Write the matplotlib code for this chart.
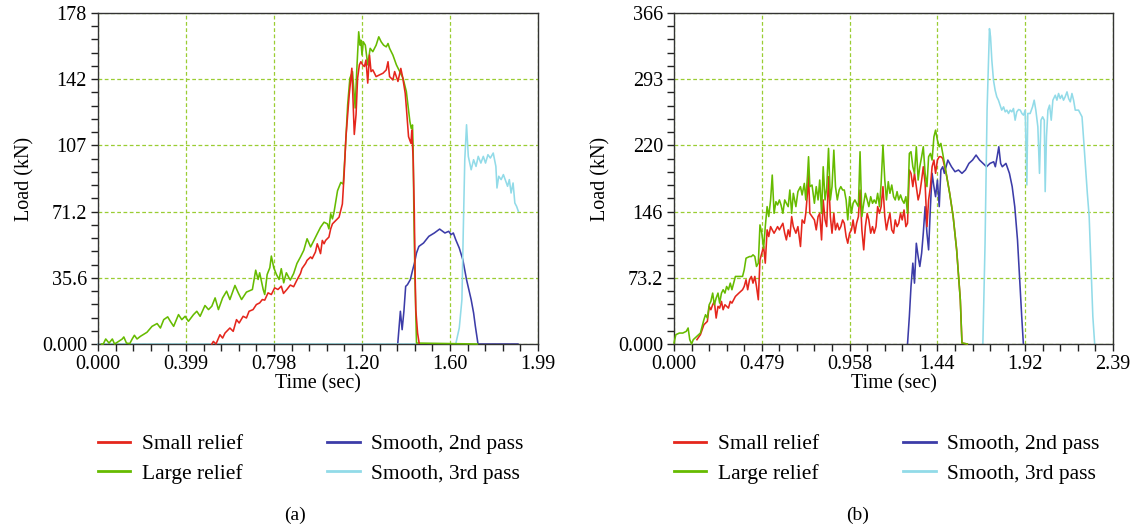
import numpy as np
import matplotlib
matplotlib.use("Agg")
import matplotlib.pyplot as plt
from matplotlib.ticker import FixedLocator, AutoMinorLocator

plt.rcParams['font.family'] = ['Liberation Serif', 'DejaVu Serif']

# ---- panel (a) data: time (sec), load (kN) ----
a_small_t = [0.516, 0.523, 0.535, 0.553, 0.565, 0.576, 0.598, 0.613, 0.628, 0.640, 0.658, 0.673,
             0.685, 0.703, 0.718, 0.733, 0.745, 0.756, 0.771, 0.786, 0.801, 0.816, 0.831, 0.841,
             0.857, 0.872, 0.887, 0.902, 0.918, 0.925, 0.941, 0.948, 0.964, 0.971, 0.986, 0.994,
             1.002, 1.009, 1.017, 1.025, 1.032, 1.047, 1.055, 1.063, 1.078, 1.093, 1.108, 1.116,
             1.124, 1.139, 1.151, 1.162, 1.170, 1.177, 1.185, 1.192, 1.200, 1.208, 1.215, 1.223,
             1.231, 1.238, 1.246, 1.261, 1.276, 1.292, 1.307, 1.315, 1.322, 1.337, 1.345, 1.360,
             1.373, 1.381, 1.393, 1.399, 1.408, 1.419, 1.423, 1.429, 1.434, 1.438, 1.441, 1.449, 1.456]
a_small_v = [0, 1.4, 0, 5.0, 3.2, 5.9, 8.6, 6.8, 13.1, 11.3, 14.9, 14.0,
             17.6, 18.5, 21.2, 22.1, 23.9, 23.6, 27.5, 26.6, 30.2, 29.3, 31.1, 27.2,
             29.4, 31.7, 30.8, 34.4, 37.9, 40.6, 43.3, 45.0, 46.8, 45.9, 49.5, 53.9,
             51.3, 48.6, 55.7, 53.9, 55.7, 57.5, 61.9, 64.6, 66.4, 68.2, 75.3, 91.3,
             110.9, 134.0, 148.3, 112.7, 123.4, 142.9, 150.1, 151.8, 150.1, 149.2, 152.7, 140.3,
             155.4, 146.5, 147.4, 143.8, 144.7, 145.6, 147.4, 151.8, 143.8, 142.0, 146.5, 141.2,
             148.2, 143.7, 134.8, 125.8, 111.5, 107.9, 115.1, 99.0, 72.1, 36.3, 18.4, 5.9, 0.5]

a_large_t = [0.016, 0.024, 0.035, 0.050, 0.065, 0.075, 0.087, 0.110, 0.117, 0.129, 0.144, 0.155,
             0.165, 0.177, 0.192, 0.222, 0.245, 0.268, 0.283, 0.298, 0.316, 0.328, 0.343, 0.365,
             0.380, 0.395, 0.410, 0.433, 0.448, 0.463, 0.485, 0.501, 0.516, 0.531, 0.546, 0.565,
             0.583, 0.598, 0.621, 0.636, 0.651, 0.673, 0.700, 0.715, 0.726, 0.733, 0.749, 0.756,
             0.767, 0.779, 0.786, 0.797, 0.809, 0.821, 0.831, 0.842, 0.854, 0.866, 0.872, 0.887,
             0.902, 0.918, 0.933, 0.948, 0.964, 0.979, 0.994, 1.009, 1.025, 1.040, 1.047, 1.055,
             1.063, 1.070, 1.086, 1.101, 1.112, 1.121, 1.132, 1.142, 1.154, 1.166, 1.173, 1.182,
             1.188, 1.192, 1.197, 1.203, 1.212, 1.223, 1.234, 1.246, 1.261, 1.273, 1.284, 1.295,
             1.307, 1.315, 1.322, 1.337, 1.353, 1.368, 1.383, 1.398, 1.414, 1.420, 1.426, 1.429,
             1.432, 1.437, 1.444, 1.720]
a_large_v = [0, 0, 2.7, 0.5, 2.7, 0, 0.9, 2.7, 3.8, 0.5, 0.2, 2.7,
             4.7, 2.7, 4.1, 6.3, 9.5, 11.0, 8.6, 13.1, 14.6, 12.2, 9.5, 15.8,
             13.1, 14.9, 12.2, 15.8, 17.6, 14.9, 20.7, 18.5, 20.3, 24.8, 18.5, 24.8,
             28.4, 23.9, 31.5, 27.5, 23.9, 27.9, 29.3, 39.7, 34.7, 38.3, 29.3, 26.6,
             37.4, 41.0, 47.3, 41.0, 37.4, 34.7, 40.5, 32.9, 38.3, 35.6, 34.4, 37.9,
             43.3, 46.8, 50.4, 56.6, 52.2, 55.7, 59.3, 62.8, 65.5, 64.6, 61.9, 70.0,
             67.3, 70.8, 82.4, 86.9, 86.0, 103.8, 128.7, 142.9, 146.5, 126.9, 146.5, 167.9,
             160.7, 163.4, 155.4, 162.5, 160.7, 150.1, 159.0, 157.2, 160.7, 165.2, 162.5, 160.7,
             159.8, 161.6, 159.0, 155.4, 150.1, 146.5, 142.9, 135.8, 119.8, 116.0, 117.8, 104.4,
             72.1, 36.3, 0.5, 0]

a_pass2_t = [1.359, 1.371, 1.379, 1.387, 1.395, 1.403, 1.416, 1.427, 1.435, 1.444, 1.455, 1.476,
             1.500, 1.525, 1.549, 1.573, 1.590, 1.601, 1.611, 1.622, 1.638, 1.654, 1.671, 1.692,
             1.703, 1.711, 1.723, 1.904]
a_pass2_v = [0, 17.6, 7.7, 17.6, 31.0, 31.9, 34.6, 40.0, 43.6, 48.9, 52.5, 54.3,
             57.9, 59.7, 61.8, 59.7, 60.6, 58.8, 59.7, 56.1, 51.6, 45.4, 34.6, 23.8,
             16.7, 9.5, 0, 0]

a_pass3_t = [0.0, 1.622, 1.638, 1.650, 1.656, 1.663, 1.671, 1.679, 1.692, 1.703, 1.714, 1.724,
             1.736, 1.747, 1.757, 1.768, 1.779, 1.792, 1.804, 1.809, 1.817, 1.828, 1.838, 1.849,
             1.857, 1.865, 1.873, 1.882, 1.890, 1.898, 1.906]
a_pass3_v = [0, 0, 8.6, 23.8, 59.7, 99.1, 117.9, 100.9, 93.7, 99.1, 95.5, 100.9,
             97.3, 100.9, 97.3, 101.8, 100.0, 102.7, 95.5, 83.9, 90.2, 88.4, 91.1, 87.5,
             84.8, 88.4, 81.2, 86.6, 75.8, 74.0, 71.3]

# ---- panel (b) data ----
b_small_t = [0.125, 0.144, 0.163, 0.182, 0.192, 0.201, 0.211, 0.220, 0.230, 0.240, 0.249, 0.259,
             0.268, 0.278, 0.287, 0.297, 0.307, 0.316, 0.335, 0.354, 0.374, 0.383, 0.393, 0.402,
             0.412, 0.422, 0.431, 0.441, 0.450, 0.460, 0.469, 0.479, 0.489, 0.498, 0.508, 0.517,
             0.527, 0.536, 0.546, 0.556, 0.565, 0.575, 0.584, 0.594, 0.604, 0.613, 0.623, 0.632,
             0.642, 0.651, 0.665, 0.676, 0.690, 0.699, 0.711, 0.719, 0.728, 0.734, 0.741, 0.753,
             0.766, 0.776, 0.786, 0.795, 0.805, 0.814, 0.824, 0.833, 0.843, 0.853, 0.862, 0.872,
             0.881, 0.891, 0.901, 0.910, 0.920, 0.929, 0.939, 0.948, 0.958, 0.968, 0.977, 0.987,
             0.996, 1.006, 1.015, 1.025, 1.035, 1.044, 1.054, 1.063, 1.073, 1.083, 1.092, 1.102,
             1.111, 1.121, 1.130, 1.140, 1.150, 1.159, 1.169, 1.178, 1.188, 1.198, 1.207, 1.217,
             1.226, 1.236, 1.245, 1.255, 1.265, 1.274, 1.284, 1.293, 1.303, 1.312, 1.322, 1.332,
             1.341, 1.351, 1.360, 1.370, 1.380, 1.389, 1.399, 1.408, 1.418, 1.427, 1.437, 1.447,
             1.456, 1.466, 1.485, 1.504, 1.523, 1.542, 1.562, 1.571, 1.600]
b_small_v = [4.8, 10.3, 21.3, 25.0, 41.6, 37.9, 43.4, 47.1, 28.7, 41.6, 39.7, 47.1,
             37.9, 43.4, 41.6, 39.7, 47.1, 45.2, 52.6, 56.3, 60.0, 63.6, 71.0, 60.0,
             71.0, 74.7, 67.3, 74.7, 63.6, 48.9, 93.1, 100.4, 107.8, 89.4, 126.2, 118.8,
             129.8, 126.2, 122.5, 126.2, 129.8, 126.2, 129.8, 133.5, 122.5, 115.1, 126.2, 118.8,
             140.9, 129.8, 122.5, 129.8, 107.8, 137.2, 133.5, 144.5, 166.6, 188.7, 144.5, 140.9,
             137.2, 126.2, 140.9, 144.5, 115.1, 159.3, 137.2, 129.8, 185.0, 140.9, 122.5, 144.5,
             126.2, 133.5, 126.2, 129.8, 137.2, 133.5, 118.8, 111.4, 122.5, 126.2, 137.2, 122.5,
             133.5, 140.9, 170.3, 126.2, 104.1, 129.8, 144.5, 137.2, 122.5, 129.8, 122.5, 129.8,
             151.9, 144.5, 151.9, 174.0, 140.9, 126.2, 137.2, 144.5, 126.2, 122.5, 137.2, 129.8,
             133.5, 144.5, 137.2, 148.2, 129.8, 133.5, 192.4, 188.7, 174.0, 188.7, 174.0, 159.3,
             166.6, 181.3, 196.0, 177.6, 129.8, 159.3, 174.0, 196.0, 203.4, 188.7, 203.4, 207.1,
             207.1, 205.2, 188.7, 166.6, 140.9, 104.1, 48.9, 1.1, 0]

b_large_t = [0.000, 0.010, 0.029, 0.048, 0.067, 0.077, 0.086, 0.096, 0.105, 0.125, 0.144, 0.163,
             0.172, 0.182, 0.192, 0.201, 0.211, 0.220, 0.230, 0.240, 0.249, 0.259, 0.268, 0.278,
             0.287, 0.297, 0.307, 0.316, 0.335, 0.354, 0.374, 0.383, 0.393, 0.412, 0.422, 0.431,
             0.441, 0.450, 0.460, 0.469, 0.479, 0.489, 0.498, 0.508, 0.517, 0.527, 0.536, 0.546,
             0.556, 0.565, 0.575, 0.584, 0.594, 0.604, 0.613, 0.623, 0.632, 0.642, 0.651, 0.665,
             0.676, 0.690, 0.699, 0.711, 0.719, 0.728, 0.734, 0.741, 0.753, 0.766, 0.776, 0.786,
             0.795, 0.805, 0.814, 0.824, 0.833, 0.843, 0.853, 0.862, 0.872, 0.881, 0.891, 0.901,
             0.910, 0.920, 0.929, 0.939, 0.948, 0.958, 0.968, 0.977, 0.987, 0.996, 1.006, 1.015,
             1.025, 1.035, 1.044, 1.054, 1.063, 1.073, 1.083, 1.092, 1.102, 1.111, 1.121, 1.130,
             1.140, 1.150, 1.159, 1.169, 1.178, 1.188, 1.198, 1.207, 1.217, 1.226, 1.236, 1.245,
             1.255, 1.265, 1.274, 1.284, 1.293, 1.303, 1.312, 1.322, 1.332, 1.341, 1.351, 1.360,
             1.370, 1.380, 1.389, 1.399, 1.408, 1.418, 1.427, 1.437, 1.447, 1.456, 1.466, 1.485,
             1.504, 1.523, 1.542, 1.562, 1.571, 1.600]
b_large_v = [1.1, 10.3, 12.1, 12.1, 14.0, 17.7, 4.8, 0, 4.8, 8.5, 12.1, 26.8,
             32.4, 28.7, 43.4, 47.1, 56.3, 43.4, 50.8, 56.3, 45.2, 56.3, 60.0, 56.3,
             63.6, 60.0, 67.3, 60.0, 74.7, 74.7, 74.7, 82.0, 94.9, 96.7, 96.7, 98.6,
             96.7, 85.7, 89.4, 131.7, 122.5, 105.9, 129.8, 151.9, 140.9, 159.3, 186.8, 144.5,
             157.4, 153.7, 159.3, 153.7, 144.5, 159.3, 155.6, 151.9, 170.3, 144.5, 166.6, 151.9,
             168.5, 174.0, 164.8, 177.6, 159.3, 185.0, 207.1, 174.0, 175.8, 155.6, 174.0, 159.3,
             181.3, 144.5, 196.0, 159.3, 172.1, 216.3, 159.3, 174.0, 214.4, 174.0, 159.3, 170.3,
             174.0, 170.3, 170.3, 159.3, 137.2, 162.9, 144.5, 155.6, 159.3, 155.6, 151.9, 212.6,
             140.9, 155.6, 166.6, 159.3, 151.9, 162.9, 155.6, 159.3, 155.6, 166.6, 151.9, 177.6,
             219.9, 181.3, 159.3, 179.5, 166.6, 175.8, 162.9, 159.3, 168.5, 159.3, 164.8, 159.3,
             155.6, 162.9, 144.5, 210.7, 212.6, 196.0, 188.7, 218.1, 181.3, 196.0, 207.1, 218.1,
             188.7, 174.0, 207.1, 210.7, 203.4, 229.1, 236.5, 225.5, 218.1, 221.8, 210.7, 188.7,
             166.6, 140.9, 104.1, 48.9, 1.1, 0]

b_pass2_t = [1.274, 1.284, 1.293, 1.303, 1.312, 1.322, 1.332, 1.341, 1.351, 1.360, 1.370, 1.380,
             1.389, 1.399, 1.408, 1.418, 1.427, 1.437, 1.447, 1.456, 1.466, 1.475, 1.494, 1.514,
             1.533, 1.552, 1.571, 1.590, 1.609, 1.629, 1.648, 1.667, 1.686, 1.705, 1.724, 1.744,
             1.753, 1.763, 1.772, 1.782, 1.791, 1.811, 1.830, 1.845, 1.859, 1.874, 1.887, 1.897,
             1.906]
b_pass2_v = [0, 30.5, 63.6, 89.4, 67.3, 111.4, 96.7, 85.7, 100.4, 122.5, 151.9, 122.5,
             104.1, 151.9, 188.7, 174.0, 162.9, 181.3, 151.9, 192.4, 196.0, 188.7, 203.4, 196.0,
             190.5, 192.4, 188.7, 192.4, 199.7, 203.4, 208.9, 203.4, 199.7, 196.0, 199.7, 201.5,
             196.0, 207.1, 218.1, 199.7, 196.0, 199.7, 188.7, 174.0, 151.9, 115.1, 67.3, 30.5,
             0]

b_pass3_t = [1.685, 1.697, 1.708, 1.721, 1.727, 1.734, 1.743, 1.752, 1.761, 1.770, 1.779, 1.788,
             1.798, 1.807, 1.816, 1.825, 1.834, 1.843, 1.852, 1.861, 1.870, 1.880, 1.889, 1.898,
             1.907, 1.916, 1.925, 1.930, 1.943, 1.956, 1.965, 1.974, 1.985, 1.994, 2.002, 2.011,
             2.020, 2.025, 2.032, 2.040, 2.049, 2.058, 2.067, 2.080, 2.089, 2.098, 2.107, 2.116,
             2.125, 2.134, 2.144, 2.153, 2.162, 2.171, 2.180, 2.189, 2.207, 2.226, 2.235, 2.245,
             2.255, 2.265, 2.275, 2.285, 2.295]
b_pass3_v = [0, 111.4, 258.6, 348.7, 339.5, 313.7, 291.7, 280.6, 273.3, 269.6, 264.1, 258.6,
             262.2, 256.7, 258.6, 254.9, 258.6, 256.7, 260.4, 247.5, 256.7, 259.3, 258.6, 254.9,
             253.0, 258.6, 175.8, 254.9, 254.9, 262.2, 269.6, 258.6, 240.2, 188.7, 247.5, 251.2,
             247.5, 168.5, 229.1, 258.6, 264.1, 247.5, 269.6, 275.1, 269.6, 277.0, 271.4, 275.1,
             269.6, 273.3, 278.8, 271.4, 267.8, 277.0, 269.6, 258.6, 258.6, 251.2, 225.5, 196.0,
             166.6, 140.9, 85.7, 30.5, 0]

a_xticks = ['0.000', '0.399', '0.798', '1.20', '1.60', '1.99']
a_yticks = ['0.000', '35.6', '71.2', '107', '142', '178']
b_xticks = ['0.000', '0.479', '0.958', '1.44', '1.92', '2.39']
b_yticks = ['0.000', '73.2', '146', '220', '293', '366']

names = ['Small relief', 'Large relief', 'Smooth, 2nd pass', 'Smooth, 3rd pass']
colors = ['#e5261c', '#66bb00', '#3c3ca8', '#92dbe8']

fig = plt.figure(figsize=(11.34, 5.29), dpi=100)
ax_a = fig.add_axes([98 / 1134, 185 / 529, 440 / 1134, 331 / 529])
ax_b = fig.add_axes([674 / 1134, 185 / 529, 439 / 1134, 331 / 529])


def style(ax, xmax, ymax, xt, yt):
    ax.set_xlim(0, xmax)
    ax.set_ylim(0, ymax)
    ax.xaxis.set_major_locator(FixedLocator(np.linspace(0, xmax, 6)))
    ax.yaxis.set_major_locator(FixedLocator(np.linspace(0, ymax, 6)))
    ax.set_xticklabels(xt)
    ax.set_yticklabels(yt)
    ax.xaxis.set_minor_locator(AutoMinorLocator(5))
    ax.yaxis.set_minor_locator(AutoMinorLocator(5))
    ax.tick_params(which='both', direction='out', length=5, width=1, colors='#222222',
                   labelsize=14.5, labelcolor='black', top=False, right=False, pad=3)
    ax.grid(True, which='major', color='#9acd32', linestyle=(0, (3, 2)), linewidth=0.9)
    ax.set_axisbelow(True)
    for s in ax.spines.values():
        s.set_color('#333333')
        s.set_linewidth(1.0)
    ax.set_xlabel('Time (sec)', fontsize=14.5, labelpad=0)
    ax.set_ylabel('Load (kN)', fontsize=14.5, labelpad=5)


series_a = [(a_small_t, a_small_v), (a_large_t, a_large_v), (a_pass2_t, a_pass2_v), (a_pass3_t, a_pass3_v)]
series_b = [(b_small_t, b_small_v), (b_large_t, b_large_v), (b_pass2_t, b_pass2_v), (b_pass3_t, b_pass3_v)]

for ax, series, zord in [(ax_a, series_a, [4, 3, 2, 2]), (ax_b, series_b, [3, 4, 2, 2])]:
    for (t, v), c, n, z in zip(series, colors, names, zord):
        ax.plot(t, v, color=c, lw=1.15, label=n, zorder=z, clip_on=False)

style(ax_a, 1.995, 178, a_xticks, a_yticks)
style(ax_b, 2.395, 366, b_xticks, b_yticks)

for ax, x0, tag, xt in [(ax_a, 98, '(a)', 295), (ax_b, 674, '(b)', 858)]:
    leg = ax.legend(ncol=2, loc='upper left',
                    bbox_to_anchor=(x0 / 1134, 1 - 434 / 529), bbox_transform=fig.transFigure,
                    frameon=False, fontsize=15.5, handlelength=1.5, handletextpad=0.55,
                    columnspacing=3.9, labelspacing=0.45, borderpad=0, borderaxespad=0)
    for ln in leg.get_lines():
        ln.set_linewidth(2.0)
    fig.text(xt / 1134, 1 - 515 / 529, tag, ha='center', va='center', fontsize=14)

fig.savefig('out.png', dpi=100)
